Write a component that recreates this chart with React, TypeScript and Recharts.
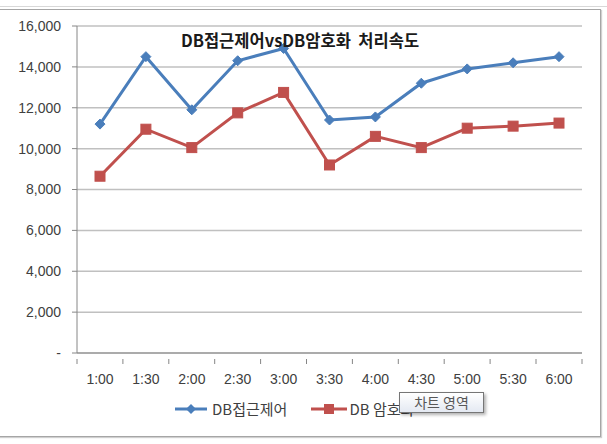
import React from 'react';
import { LineChart, Line, XAxis, YAxis, CartesianGrid, Legend } from 'recharts';

// time slots on the x axis
const times = ['1:00', '1:30', '2:00', '2:30', '3:00', '3:30', '4:00', '4:30', '5:00', '5:30', '6:00'];
// DB접근제어 processing speed
const accessCtrl = [11200, 14500, 11900, 14300, 14900, 11400, 11550, 13200, 13900, 14200, 14500];
// DB 암호화 processing speed
const encryption = [8650, 10950, 10050, 11750, 12750, 9200, 10600, 10050, 11000, 11100, 11250];
const yTicks = [0, 2000, 4000, 6000, 8000, 10000, 12000, 14000, 16000];

const seriesNames = ['DB접근제어', 'DB 암호화'];
const BLUE = '#4a7ebb';
const RED = '#c0504d';

const chartData = times.map((t, i) => ({ time: t, access: accessCtrl[i], enc: encryption[i] }));

const W = 607;
const H = 444;
const margin = { top: 26, right: 25, bottom: 0, left: 0 };
const PAD = 23;
const TEXT = '#404040';
const FONT = '"Liberation Sans", Arial, sans-serif';
const KFONT = '"Noto Sans CJK KR", "Noto Sans", sans-serif';

const formatY = (v: number) => (v === 0 ? '-' : v.toLocaleString('en-US'));

// category label in the middle, tick mark between categories (Excel style)
const XTick = (props: any) => {
    const { x, y, payload, index } = props;
    const lastIdx = times.length - 1;
    return (
        <g>
            <line x1={x - PAD} x2={x - PAD} y1={y - 15} y2={y - 10} stroke="#868686" />
            {index === lastIdx && <line x1={x + PAD} x2={x + PAD} y1={y - 15} y2={y - 10} stroke="#868686" />}
            <text x={x} y={y} dy="0.71em" textAnchor="middle" fill={TEXT} fontSize={14} fontFamily={FONT}>
                {payload.value}
            </text>
        </g>
    );
};

const Diamond = (props: any) => {
    const { cx, cy } = props;
    if (cx == null || cy == null) return null;
    const r = 5;
    return <path d={`M${cx},${cy - r}L${cx + r},${cy}L${cx},${cy + r}L${cx - r},${cy}Z`} fill={BLUE} stroke={BLUE} />;
};

const Square = (props: any) => {
    const { cx, cy } = props;
    if (cx == null || cy == null) return null;
    const s = 10;
    return <rect x={cx - s / 2} y={cy - s / 2} width={s} height={s} fill={RED} stroke={RED} />;
};

const renderLegend = () => (
    <div style={{ display: 'flex', alignItems: 'center', fontFamily: KFONT, fontSize: 15, color: TEXT, paddingLeft: 175, lineHeight: '18px' }}>
        <svg width={32} height={12}>
            <line x1={0} x2={32} y1={6} y2={6} stroke={BLUE} strokeWidth={3} />
            <path d="M16,1L21,6L16,11L11,6Z" fill={BLUE} />
        </svg>
        <span style={{ marginLeft: 5, marginRight: 24 }}>{seriesNames[0]}</span>
        <svg width={36} height={12}>
            <line x1={0} x2={36} y1={6} y2={6} stroke={RED} strokeWidth={3} />
            <rect x={13} y={1} width={10} height={10} fill={RED} />
        </svg>
        <span style={{ marginLeft: 2 }}>{seriesNames[1]}</span>
    </div>
);

export default function App() {
    return (
        <div style={{ position: 'absolute', left: 0, top: 0, width: W, height: H, background: '#fff', overflow: 'hidden' }}>
            <div style={{ position: 'absolute', left: 0, top: 6, width: W, height: 1, background: '#d8d8d8' }} />
            <div style={{ position: 'absolute', left: -1, top: 9, width: 600, height: 426, border: '1px solid #a6a6a6', boxShadow: '1px 1px 1px #d0d0d0' }} />
            <div style={{ position: 'absolute', left: 0, top: 0 }}>
                <LineChart width={W} height={H} data={chartData} margin={margin}>
                    <CartesianGrid vertical={false} stroke="#c0c0c0" strokeWidth={1.5} />
                    <XAxis
                        dataKey="time"
                        padding={{ left: PAD, right: PAD }}
                        axisLine={{ stroke: '#868686' }}
                        tickLine={false}
                        tickMargin={15}
                        tick={<XTick />}
                        interval={0}
                        height={91}
                    />
                    <YAxis
                        width={77}
                        domain={[0, 16000]}
                        ticks={yTicks}
                        tickFormatter={formatY}
                        axisLine={{ stroke: '#868686' }}
                        tickLine={{ stroke: '#868686' }}
                        tickSize={5}
                        tickMargin={11}
                        tick={{ fill: TEXT, fontSize: 14, fontFamily: FONT }}
                        interval={0}
                    />
                    <Legend verticalAlign="middle" content={renderLegend} wrapperStyle={{ top: 400, left: 0, width: W }} />
                    <Line
                        name={seriesNames[0]}
                        dataKey="access"
                        stroke={BLUE}
                        strokeWidth={3}
                        dot={<Diamond />}
                        activeDot={false}
                        isAnimationActive={false}
                    />
                    <Line
                        name={seriesNames[1]}
                        dataKey="enc"
                        stroke={RED}
                        strokeWidth={3}
                        dot={<Square />}
                        activeDot={false}
                        isAnimationActive={false}
                    />
                </LineChart>
            </div>
            <div style={{ position: 'absolute', left: 100, width: 400, top: 28, textAlign: 'center', fontFamily: KFONT, fontWeight: 700, fontSize: 16.5, color: '#1a1a1a', whiteSpace: 'pre' }}>
                {'DB접근제어vsDB암호화  처리속도'}
            </div>
            <div style={{ position: 'absolute', left: 399, top: 392, width: 85, height: 21, boxSizing: 'border-box', textAlign: 'center', lineHeight: '19px', border: '1px solid #767676', background: 'linear-gradient(#ffffff, #e4e9f2)', boxShadow: '2px 2px 3px rgba(0,0,0,0.3)', fontFamily: KFONT, fontSize: 14, color: '#575757', whiteSpace: 'pre' }}>
                {'차트 영역'}
            </div>
        </div>
    );
}
